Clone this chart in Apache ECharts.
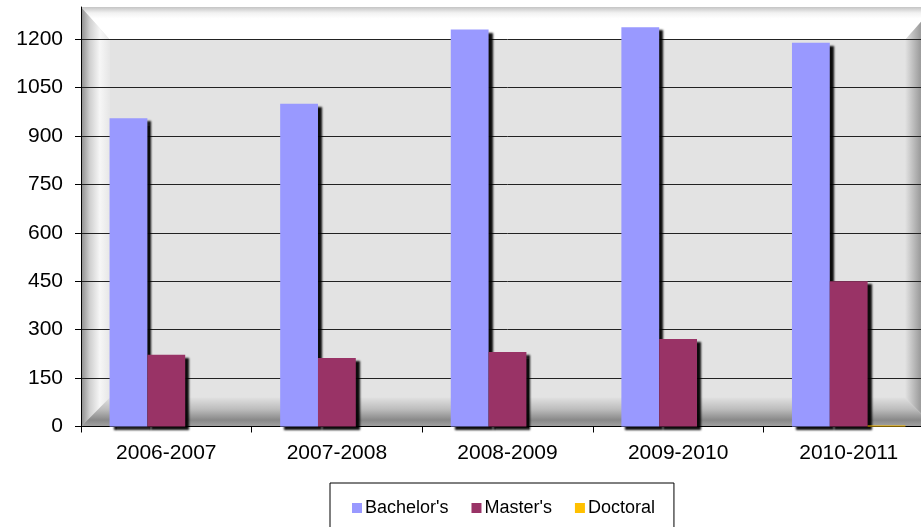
<!DOCTYPE html>
<html>
<head>
<meta charset="utf-8">
<script src="https://cdn.jsdelivr.net/npm/echarts@6/dist/echarts.min.js"></script>
<style>
html,body{margin:0;padding:0;background:#fff;overflow:hidden;width:921px;height:527px;}
#chart{width:940px;height:527px;}
</style>
</head>
<body>
<div id="chart"></div>
<script>
const categories = ['2006-2007', '2007-2008', '2008-2009', '2009-2010', '2010-2011'];
const seriesNames = ["Bachelor's", "Master's", 'Doctoral'];
const bachelors = [955, 1000, 1230, 1237, 1189];
const masters = [222, 212, 231, 271, 450];
const doctoral = [0, 0, 0, 0, 3];
const yMin = 0, yMax = 1300, yInterval = 150;

const FONT = '"Liberation Sans", Arial, sans-serif';
const W = 940, H = 527;
const G = { left: 81, top: 7, width: 853, height: 419.5 };
const x0 = G.left, y0 = G.top, x1 = G.left + G.width, y1 = G.top + G.height;
const b = 29, bt = 33;

function lin(x, y, x2, y2, stops) {
  return { type: 'linear', x: x, y: y, x2: x2, y2: y2,
    colorStops: stops.map(s => ({ offset: s[0], color: s[1] })) };
}

const frame = [
  { type: 'rect', shape: { x: x0, y: y0, width: G.width, height: G.height },
    style: { fill: '#e3e3e3' } },
  { type: 'polygon', shape: { points: [[x0, y0], [x1, y0], [x1 - b, y0 + bt], [x0 + b, y0 + bt]] },
    style: { fill: lin(0, 0, 0, 1, [[0, '#c4c4c4'], [0.18, '#f2f2f2'], [0.35, '#ffffff'], [1, '#ffffff']]) } },
  { type: 'polygon', shape: { points: [[x0, y0], [x0 + b, y0 + bt], [x0 + b, y1 - b], [x0, y1]] },
    style: { fill: lin(0, 0, 1, 0, [[0, '#8a8a8a'], [0.3, '#cfcfcf'], [0.65, '#f6f6f6'], [1, '#e6e6e6']]) } },
  { type: 'polygon', shape: { points: [[x0, y1], [x0 + b, y1 - b], [x1 - b, y1 - b], [x1, y1]] },
    style: { fill: lin(0, 0, 0, 1, [[0, '#e0e0e0'], [0.4, '#bdbdbd'], [0.78, '#888888'], [1, '#a2a2a2']]) } },
  { type: 'polygon', shape: { points: [[x1, y0], [x1, y1], [x1 - b, y1 - b], [x1 - b, y0 + bt]] },
    style: { fill: lin(0, 0, 1, 0, [[0, '#e3e3e3'], [0.5, '#a0a0a0'], [1, '#808080']]) } }
].map(e => Object.assign(e, { z: -10, silent: true }));

const shadow = { shadowColor: 'rgba(0,0,0,0.95)', shadowBlur: 2, shadowOffsetX: 4, shadowOffsetY: 3 };

const chart = echarts.init(document.getElementById('chart'), null, { renderer: 'canvas', width: W, height: H });
chart.setOption({
  animation: false,
  backgroundColor: '#ffffff',
  graphic: { elements: frame },
  grid: { left: G.left, top: G.top, right: W - x1, bottom: H - y1, containLabel: false },
  legend: {
    data: seriesNames,
    left: 330, top: 483,
    padding: [16, 19, 14, 22],
    itemGap: 23, itemWidth: 10, itemHeight: 10,
    icon: 'rect',
    borderColor: '#000', borderWidth: 1,
    textStyle: { fontFamily: FONT, fontSize: 18, color: '#000', padding: [0, 0, 0, -2] }
  },
  xAxis: {
    type: 'category',
    data: categories,
    axisLine: { lineStyle: { color: '#000', width: 1 } },
    axisTick: { show: true, length: 6, lineStyle: { color: '#000' } },
    axisLabel: { fontFamily: FONT, fontSize: 21, color: '#000', margin: 16 }
  },
  yAxis: {
    type: 'value',
    min: yMin, max: yMax, interval: yInterval,
    axisLine: { show: true, lineStyle: { color: '#000', width: 1 } },
    axisTick: { show: true, length: 6, lineStyle: { color: '#000' } },
    axisLabel: { fontFamily: FONT, fontSize: 21, color: '#000', margin: 18, showMaxLabel: false,
      formatter: v => String(v) },
    splitLine: { show: true, showMaxLine: false, lineStyle: { color: '#222', width: 1 } }
  },
  series: [
    { name: seriesNames[0], type: 'bar', data: bachelors, barGap: '0%', barCategoryGap: '33.5%',
      itemStyle: Object.assign({ color: '#9999FF' }, shadow) },
    { name: seriesNames[1], type: 'bar', data: masters, barGap: '0%', barCategoryGap: '33.5%',
      itemStyle: Object.assign({ color: '#993366' }, shadow) },
    { name: seriesNames[2], type: 'bar', data: doctoral, barGap: '0%', barCategoryGap: '33.5%',
      itemStyle: { color: '#FFC000' } }
  ]
});
</script>
</body>
</html>
